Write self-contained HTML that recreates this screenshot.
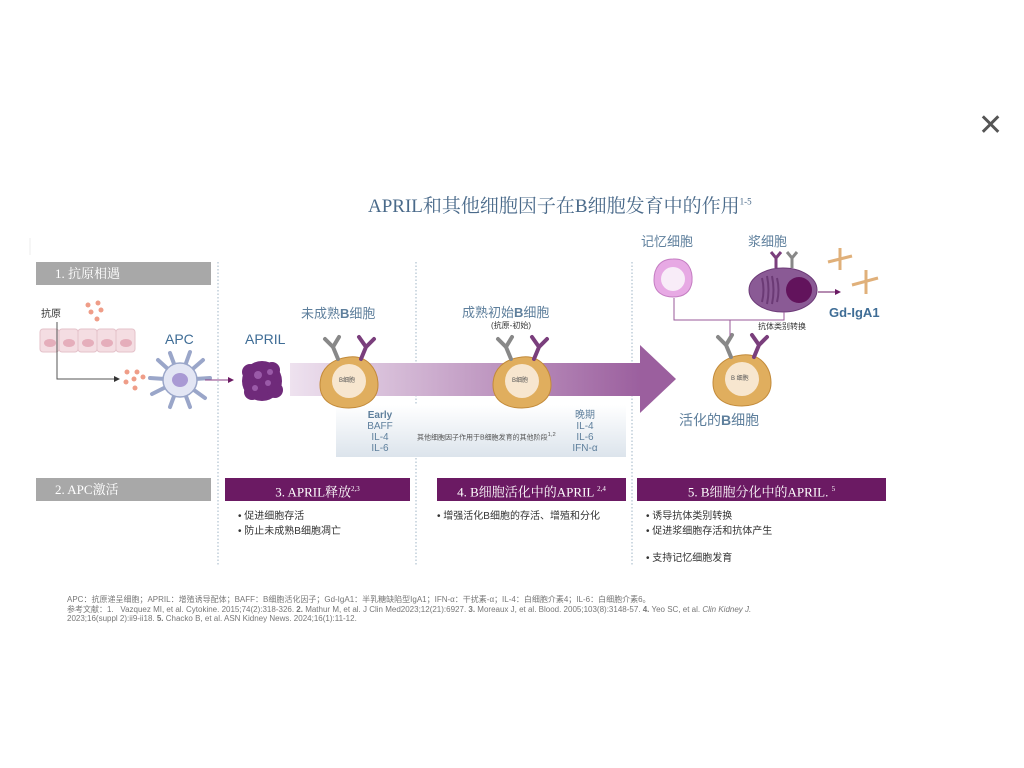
<!DOCTYPE html>
<html><head><meta charset="utf-8"><style>
html,body{margin:0;padding:0;background:#fff;}
body{width:1024px;height:768px;position:relative;overflow:hidden;font-family:"Liberation Sans","Noto Sans CJK SC",sans-serif;}
.a{position:absolute;white-space:nowrap;}
.hdr{position:absolute;height:23px;line-height:23px;color:#fff;font-family:"Liberation Serif","Noto Serif CJK SC",serif;font-size:13px;}
.gray{background:#a8a8a8;}
.pur{background:#6b1a63;text-align:center;}
.blt{font-size:10px;color:#333;}
.ft{font-size:8px;color:#777;}
</style></head><body>
<div class="a" style="left:978px;top:108px;font-size:30px;color:#555;font-weight:300;">✕</div>
<div class="a" style="left:368px;top:191px;font-size:19px;color:#4a6a8a;font-family:'Liberation Serif','Noto Serif CJK SC',serif;">APRIL和其他细胞因子在B细胞发育中的作用<sup style="font-size:9px;">1-5</sup></div>

<svg class="a" style="left:0;top:0" width="1024" height="768">
<defs>
<linearGradient id="band" x1="0" x2="1"><stop offset="0" stop-color="#eee2ef"/><stop offset="1" stop-color="#9b5f9e"/></linearGradient>
<linearGradient id="box" x1="0" y1="0" x2="0" y2="1"><stop offset="0" stop-color="#fff"/><stop offset="1" stop-color="#dce4ec"/></linearGradient>
<g id="bc">
<path d="M0 -22 C18 -24 29 -10 29 6 C29 22 14 29 0 29 C-16 29 -29 22 -29 6 C-29 -10 -18 -20 0 -22Z" fill="#e0ae5e" stroke="#c28a3a"/>
<circle cx="0" cy="2" r="17" fill="#f7e6cf"/>
<path d="M-11 -20 L-16 -32 M-16 -32 L-24 -40 M-16 -32 L-10 -42" stroke="#888" stroke-width="4" fill="none" stroke-linecap="round"/>
<path d="M12 -20 L17 -32 M17 -32 L10 -42 M17 -32 L25 -40" stroke="#7a3e7c" stroke-width="4" fill="none" stroke-linecap="round"/>
</g>
</defs>
<line x1="30" y1="238" x2="30" y2="255" stroke="#eee"/>
<g stroke="#9fb4c6" stroke-dasharray="1.5,2" stroke-width="1">
<line x1="218" y1="262" x2="218" y2="566"/><line x1="416" y1="262" x2="416" y2="566"/><line x1="632" y1="262" x2="632" y2="566"/>
</g>
<rect x="336" y="405" width="290" height="52" fill="url(#box)"/>
<rect x="290" y="363" width="352" height="33" fill="url(#band)"/>
<polygon points="640,345 676,379 640,413" fill="#9b5f9e"/>
<g fill="#f4dde2" stroke="#e4c2ca">
<rect x="40" y="329" width="19" height="23" rx="3"/><rect x="59" y="329" width="19" height="23" rx="3"/><rect x="78" y="329" width="19" height="23" rx="3"/><rect x="97" y="329" width="19" height="23" rx="3"/><rect x="116" y="329" width="19" height="23" rx="3"/>
</g>
<g fill="#e5aebb"><ellipse cx="50" cy="343" rx="6" ry="4"/><ellipse cx="69" cy="343" rx="6" ry="4"/><ellipse cx="88" cy="343" rx="6" ry="4"/><ellipse cx="107" cy="343" rx="6" ry="4"/><ellipse cx="126" cy="343" rx="6" ry="4"/></g>
<g fill="#ef9d88"><circle cx="88" cy="305" r="2.5"/><circle cx="98" cy="303" r="2.5"/><circle cx="91" cy="312" r="2.5"/><circle cx="101" cy="310" r="2.5"/><circle cx="97" cy="319" r="2.5"/>
<circle cx="127" cy="372" r="2.5"/><circle cx="137" cy="372" r="2.5"/><circle cx="126" cy="382" r="2.5"/><circle cx="134" cy="379" r="2.5"/><circle cx="143" cy="377" r="2.5"/><circle cx="135" cy="388" r="2.5"/></g>
<polyline points="57,322 57,379 114,379" fill="none" stroke="#555"/><polygon points="114,376 120,379 114,382" fill="#333"/>
<g stroke="#9aa6c9" stroke-width="4" stroke-linecap="round" fill="none">
<path d="M180 380 L158 360 M180 380 L170 353 M180 380 L190 352 M180 380 L203 360 M180 380 L210 378 M180 380 L205 398 M180 380 L190 407 M180 380 L170 407 M180 380 L152 394 M180 380 L150 378"/></g>
<circle cx="180" cy="380" r="17" fill="#e3e6f4" stroke="#9aa6c9" stroke-width="1.5"/>
<ellipse cx="180" cy="380" rx="8" ry="7" fill="#a99ad4"/>
<line x1="205" y1="380" x2="228" y2="380" stroke="#8a3e84"/><polygon points="228,377 234,380 228,383" fill="#6b1a63"/>
<g fill="#6f2a7a"><circle cx="262" cy="381" r="20"/><circle cx="250" cy="372" r="8"/><circle cx="272" cy="370" r="8"/><circle cx="275" cy="390" r="8"/><circle cx="252" cy="392" r="8"/></g>
<g fill="#9a5aa8"><circle cx="258" cy="375" r="4"/><circle cx="268" cy="383" r="3"/><circle cx="255" cy="388" r="3"/><circle cx="270" cy="372" r="3"/></g>
<use href="#bc" x="349" y="379"/>
<use href="#bc" x="522" y="379"/>
<use href="#bc" x="742" y="377"/>
<path d="M673 259 C688 258 693 270 692 282 C690 295 680 297 673 297 C664 297 654 293 654 280 C654 268 660 259 673 259Z" fill="#e7a9e4" stroke="#c47dc2"/>
<circle cx="673" cy="279" r="12" fill="#f8ecf8"/>
<ellipse cx="783" cy="290" rx="34" ry="22" fill="#8a5a95" stroke="#6d3b78"/>
<circle cx="799" cy="290" r="13" fill="#62135c"/>
<g stroke="#6b3a75" stroke-width="2" fill="none"><path d="M762 278 q3 12 0 24 M767 276 q3 14 0 28 M772 276 q3 14 0 28 M777 278 q3 12 0 24"/></g>
<path d="M776 268 V258 M776 258 L771 252 M776 258 L781 252" stroke="#7a3e7c" stroke-width="3" fill="none"/>
<path d="M792 268 V258 M792 258 L787 252 M792 258 L797 252" stroke="#888" stroke-width="3" fill="none"/>
<line x1="818" y1="292" x2="835" y2="292" stroke="#6b1a63"/><polygon points="835,289 841,292 835,295" fill="#6b1a63"/>
<polyline points="674,298 674,320 784,320 784,312" fill="none" stroke="#9a5a9a"/>
<line x1="730" y1="320" x2="730" y2="336" stroke="#9a5a9a"/>
<g stroke="#e0b07a" stroke-width="3"><line x1="828" y1="262" x2="852" y2="256"/><line x1="840" y1="248" x2="840" y2="270"/><line x1="852" y1="285" x2="878" y2="278"/><line x1="866" y1="270" x2="866" y2="294"/></g>
</svg>

<div class="hdr gray" style="left:36px;top:262px;width:175px;"><span style="margin-left:19px">1. 抗原相遇</span></div>
<div class="hdr gray" style="left:36px;top:478px;width:175px;"><span style="margin-left:19px">2. APC激活</span></div>
<div class="hdr pur" style="left:225px;top:478px;width:185px;">3. APRIL释放<sup style="font-size:7px">2,3</sup></div>
<div class="hdr pur" style="left:437px;top:478px;width:189px;">4. B细胞活化中的APRIL <sup style="font-size:7px">2,4</sup></div>
<div class="hdr pur" style="left:637px;top:478px;width:249px;">5. B细胞分化中的APRIL. <sup style="font-size:7px">5</sup></div>

<div class="a" style="left:41px;top:305px;font-size:10px;color:#333">抗原</div>
<div class="a" style="left:165px;top:331px;font-size:14px;color:#3f6d96">APC</div>
<div class="a" style="left:245px;top:331px;font-size:14px;color:#3f6d96">APRIL</div>
<div class="a" style="left:301px;top:303px;font-size:13px;color:#5e7f9c">未成熟<b>B</b>细胞</div>
<div class="a" style="left:339px;top:375px;font-size:6px;color:#555">B细胞</div>
<div class="a" style="left:462px;top:302px;font-size:13px;color:#5e7f9c">成熟初始<b>B</b>细胞</div>
<div class="a" style="left:491px;top:320px;font-size:8px;color:#333">(抗原-初始)</div>
<div class="a" style="left:512px;top:375px;font-size:6px;color:#555">B细胞</div>
<div class="a" style="left:731px;top:373px;font-size:6px;color:#555">B 细胞</div>
<div class="a" style="left:679px;top:410px;font-size:14px;color:#5e7f9c">活化的<b>B</b>细胞</div>
<div class="a" style="left:641px;top:231px;font-size:13px;color:#5e7f9c">记忆细胞</div>
<div class="a" style="left:748px;top:231px;font-size:13px;color:#5e7f9c">浆细胞</div>
<div class="a" style="left:758px;top:321px;font-size:8px;color:#333">抗体类别转换</div>
<div class="a" style="left:829px;top:305px;font-size:13px;color:#3f6d96;font-weight:bold">Gd-IgA1</div>
<div class="a" style="left:360px;top:410px;font-size:10px;color:#5e7f9c;text-align:center;line-height:11px;width:40px"><b>Early</b><br>BAFF<br>IL-4<br>IL-6</div>
<div class="a" style="left:417px;top:432px;font-size:7px;color:#555">其他细胞因子作用于B细胞发育的其他阶段<sup>1,2</sup></div>
<div class="a" style="left:565px;top:410px;font-size:10px;color:#5e7f9c;text-align:center;line-height:11px;width:40px">晚期<br>IL-4<br>IL-6<br>IFN-α</div>

<div class="a blt" style="left:238px;top:507px">• 促进细胞存活</div>
<div class="a blt" style="left:238px;top:522px">• 防止未成熟B细胞凋亡</div>
<div class="a blt" style="left:437px;top:507px">• 增强活化B细胞的存活、增殖和分化</div>
<div class="a blt" style="left:646px;top:507px">• 诱导抗体类别转换</div>
<div class="a blt" style="left:646px;top:522px">• 促进浆细胞存活和抗体产生</div>
<div class="a blt" style="left:646px;top:549px">• 支持记忆细胞发育</div>

<div class="a ft" style="left:67px;top:594px">APC：抗原递呈细胞；APRIL：增殖诱导配体；BAFF：B细胞活化因子；Gd-IgA1：半乳糖缺陷型IgA1；IFN-α：干扰素-α；IL-4：白细胞介素4；IL-6：白细胞介素6。</div>
<div class="a ft" style="left:67px;top:604px">参考文献：1.&nbsp;&nbsp;&nbsp;Vazquez MI, et al. Cytokine. 2015;74(2):318-326. <b>2.</b> Mathur M, et al. J Clin Med2023;12(21):6927. <b>3.</b> Moreaux J, et al. Blood. 2005;103(8):3148-57. <b>4.</b> Yeo SC, et al. <i>Clin Kidney J.</i></div>
<div class="a ft" style="left:67px;top:614px">2023;16(suppl 2):ii9-ii18. <b>5.</b> Chacko B, et al. ASN Kidney News. 2024;16(1):11-12.</div>
</body></html>
